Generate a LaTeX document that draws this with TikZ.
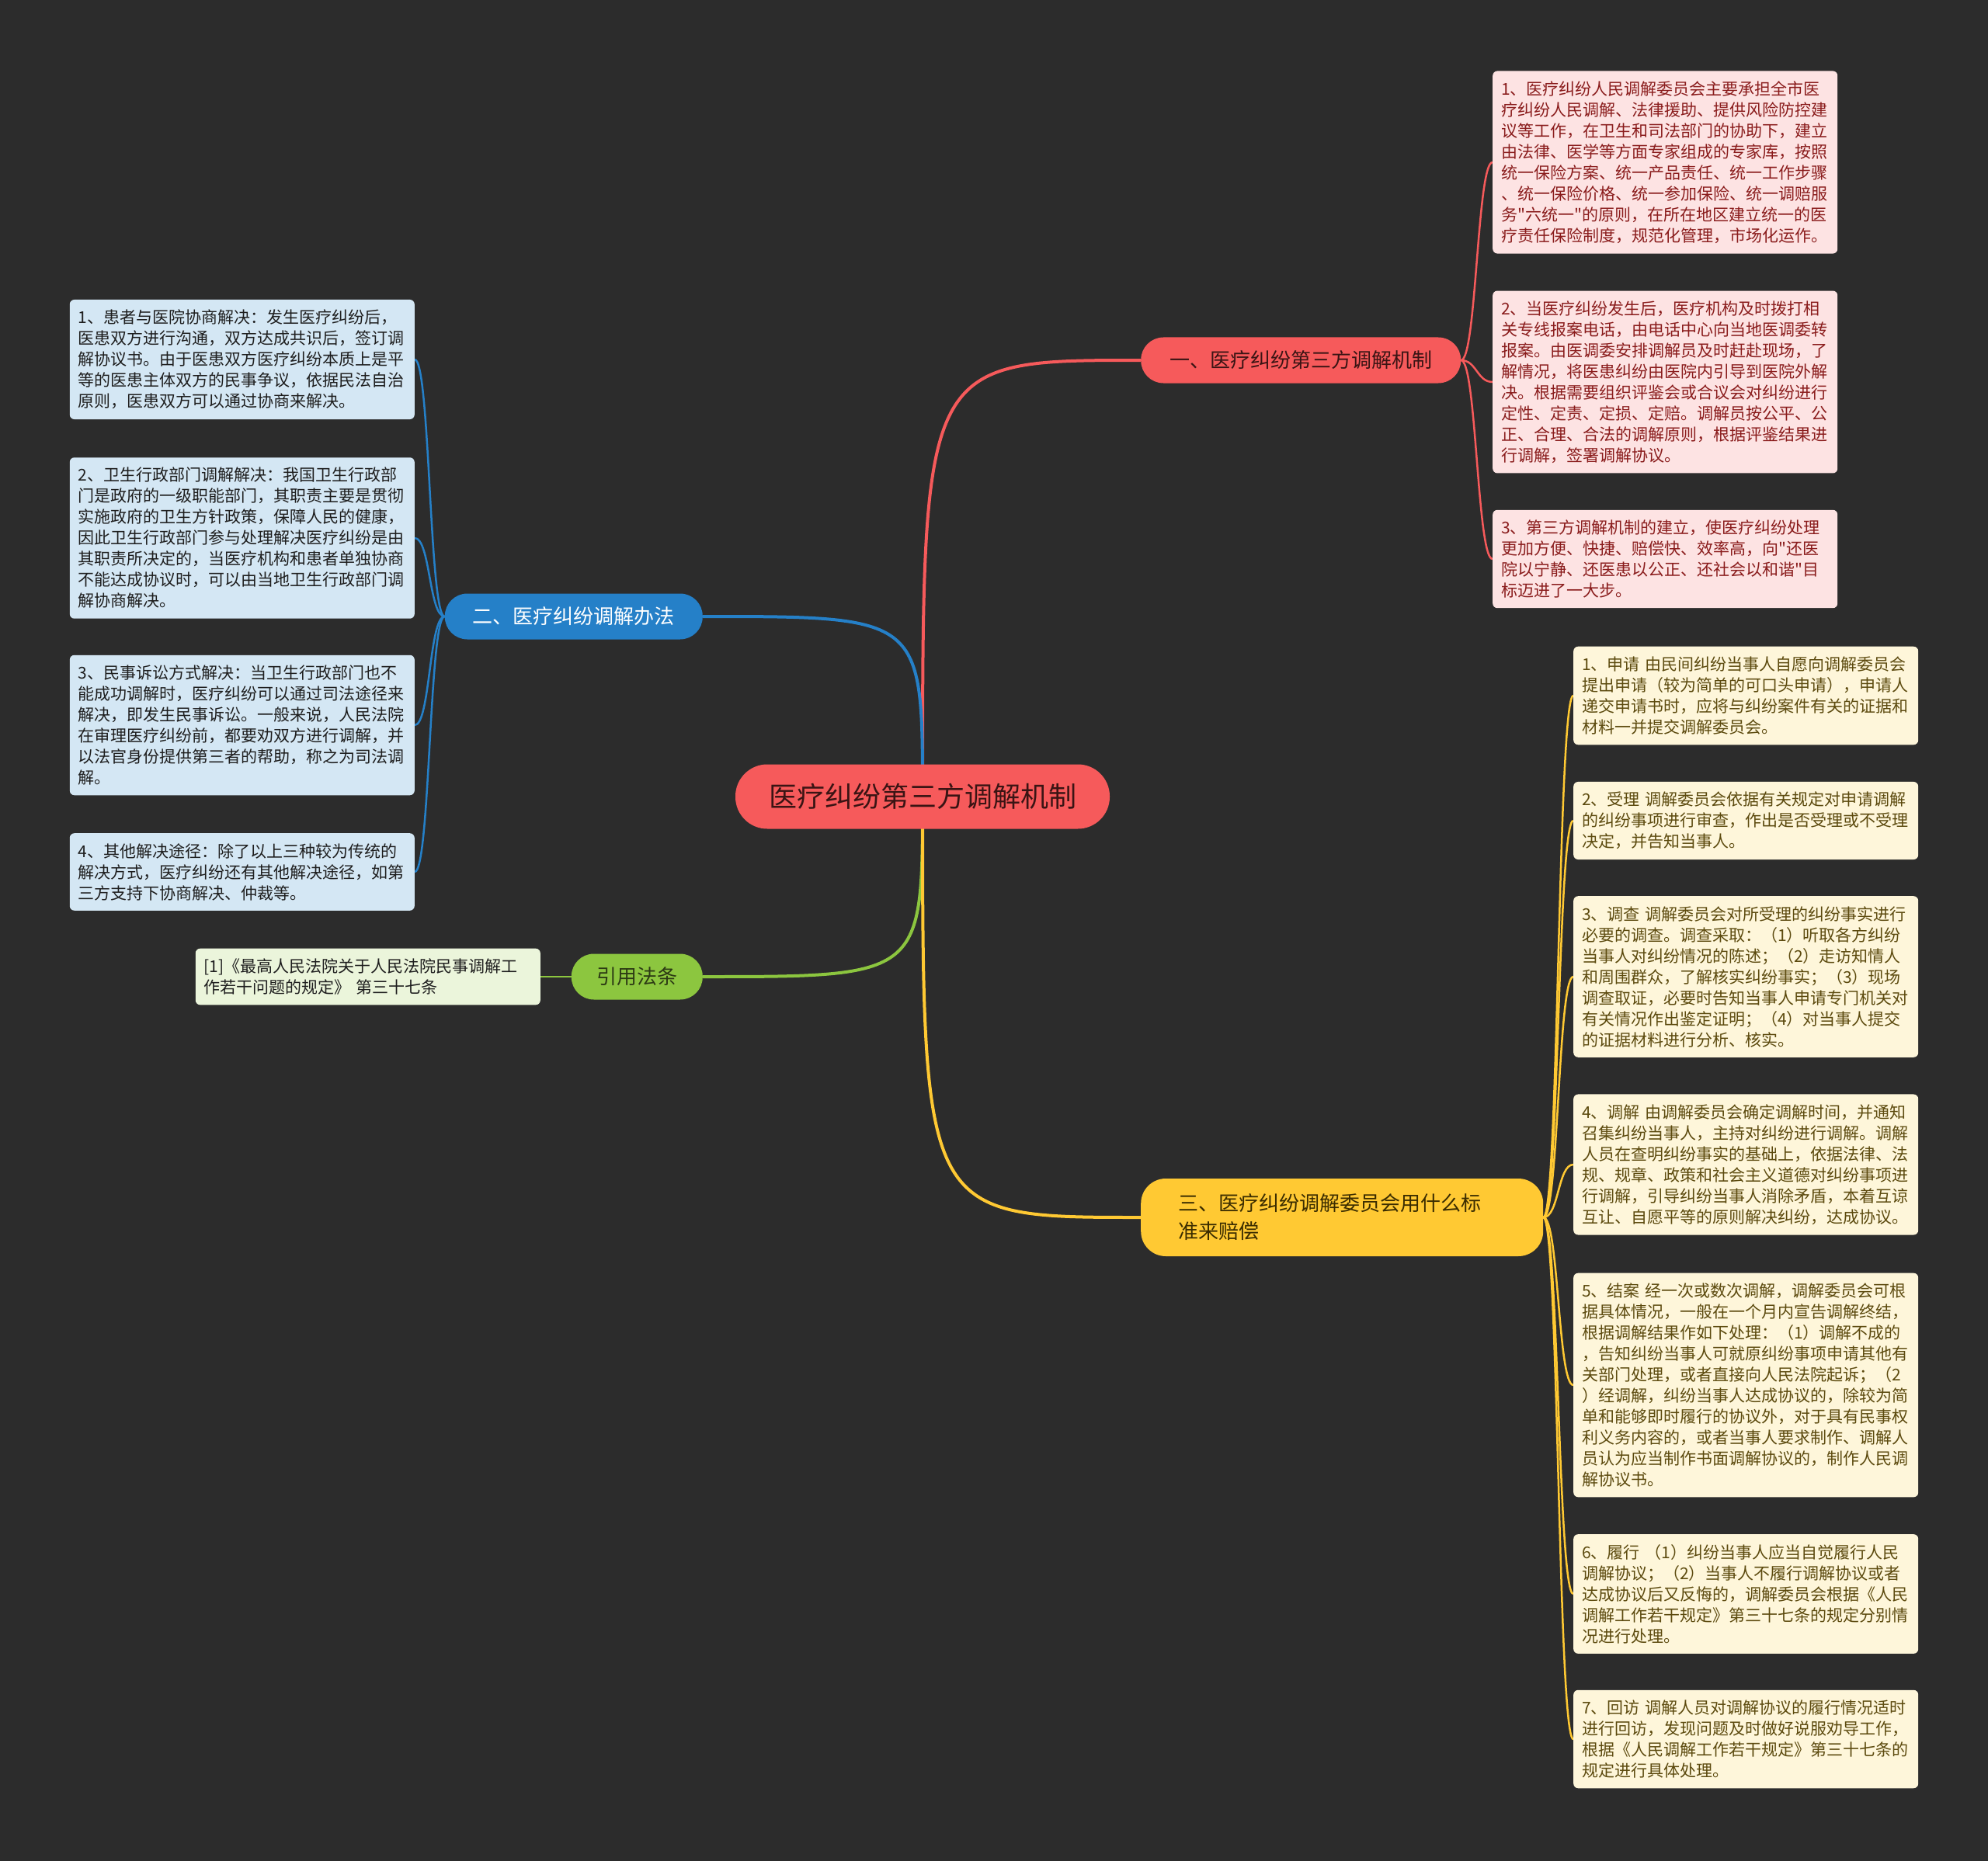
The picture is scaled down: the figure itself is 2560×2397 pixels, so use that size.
\documentclass[tikz,border=0pt]{standalone}
\usepackage{fontspec}
\newfontfamily\cjk{Noto Sans CJK SC}
\definecolor{bgcol}{HTML}{2C2C2C}
\definecolor{redmain}{HTML}{F65A5B}
\definecolor{redleaf}{HTML}{FDE3E3}
\definecolor{redtext}{HTML}{8A1C1C}
\definecolor{roottext}{HTML}{3A1414}
\definecolor{bluemain}{HTML}{2580C8}
\definecolor{blueleaf}{HTML}{D4E7F4}
\definecolor{bluetext}{HTML}{1E1E1E}
\definecolor{greenmain}{HTML}{8CC63F}
\definecolor{greenleaf}{HTML}{EBF5DB}
\definecolor{greentext}{HTML}{2C3A14}
\definecolor{yelmain}{HTML}{FFC933}
\definecolor{yelleaf}{HTML}{FEF6DA}
\definecolor{yeltext}{HTML}{5C4A0E}
\definecolor{yeltopic}{HTML}{3A2C00}
\pgfdeclarelayer{bg}
\pgfsetlayers{bg,main}
\begin{document}
\begin{tikzpicture}[x=1pt,y=-1pt,
  leaf/.style={rectangle,rounded corners=6pt,text width=422pt,align=left,inner xsep=11pt,inner ysep=13pt,font=\cjk\fontsize{21}{27}\selectfont},
  rleaf/.style={leaf,fill=redleaf,text=redtext,anchor=west},
  bleaf/.style={leaf,fill=blueleaf,text=bluetext,anchor=east},
  yleaf/.style={leaf,fill=yelleaf,text=yeltext,anchor=west},
  topic/.style={rectangle,rounded corners=29pt,minimum height=59pt,font=\cjk\fontsize{26}{36}\selectfont},
  mainline/.style={line width=4pt},
  twig/.style={line width=2.5pt}]
\node (root) at (1188,1026)[rectangle,rounded corners=41pt,minimum width=482pt,minimum height=83pt,fill=redmain,text=roottext,font=\cjk\fontsize{36}{40}\selectfont]{医疗纠纷第三方调解机制};

\node (t1) at (1469,464)[topic,anchor=west,minimum width=412pt,fill=redmain,text=roottext]{一、医疗纠纷第三方调解机制};
\node (t2) at (905,794)[topic,anchor=east,minimum width=332pt,fill=bluemain,text=white]{二、医疗纠纷调解办法};
\node (t3) at (905,1258)[topic,anchor=east,minimum width=169pt,fill=greenmain,text=greentext]{引用法条};
\node (t4) at (1469,1568)[topic,anchor=west,text width=422pt,align=left,inner xsep=48pt,minimum height=100pt,rounded corners=32pt,fill=yelmain,text=yeltopic]{三、医疗纠纷调解委员会用什么标\\准来赔偿};

\node (r1) at (1922,209)[rleaf]{1、医疗纠纷人民调解委员会主要承担全市医\\疗纠纷人民调解、法律援助、提供风险防控建\\议等工作，在卫生和司法部门的协助下，建立\\由法律、医学等方面专家组成的专家库，按照\\统一保险方案、统一产品责任、统一工作步骤\\、统一保险价格、统一参加保险、统一调赔服\\务"六统一"的原则，在所在地区建立统一的医\\疗责任保险制度，规范化管理，市场化运作。};
\node (r2) at (1922,492)[rleaf]{2、当医疗纠纷发生后，医疗机构及时拨打相\\关专线报案电话，由电话中心向当地医调委转\\报案。由医调委安排调解员及时赶赴现场，了\\解情况，将医患纠纷由医院内引导到医院外解\\决。根据需要组织评鉴会或合议会对纠纷进行\\定性、定责、定损、定赔。调解员按公平、公\\正、合理、合法的调解原则，根据评鉴结果进\\行调解，签署调解协议。};
\node (r3) at (1922,720)[rleaf]{3、第三方调解机制的建立，使医疗纠纷处理\\更加方便、快捷、赔偿快、效率高，向"还医\\院以宁静、还医患以公正、还社会以和谐"目\\标迈进了一大步。};

\node (b1) at (534,463)[bleaf]{1、患者与医院协商解决：发生医疗纠纷后，\\医患双方进行沟通，双方达成共识后，签订调\\解协议书。由于医患双方医疗纠纷本质上是平\\等的医患主体双方的民事争议，依据民法自治\\原则，医患双方可以通过协商来解决。};
\node (b2) at (534,693)[bleaf]{2、卫生行政部门调解解决：我国卫生行政部\\门是政府的一级职能部门，其职责主要是贯彻\\实施政府的卫生方针政策，保障人民的健康，\\因此卫生行政部门参与处理解决医疗纠纷是由\\其职责所决定的，当医疗机构和患者单独协商\\不能达成协议时，可以由当地卫生行政部门调\\解协商解决。};
\node (b3) at (534,934)[bleaf]{3、民事诉讼方式解决：当卫生行政部门也不\\能成功调解时，医疗纠纷可以通过司法途径来\\解决，即发生民事诉讼。一般来说，人民法院\\在审理医疗纠纷前，都要劝双方进行调解，并\\以法官身份提供第三者的帮助，称之为司法调\\解。};
\node (b4) at (534,1123)[bleaf]{4、其他解决途径：除了以上三种较为传统的\\解决方式，医疗纠纷还有其他解决途径，如第\\三方支持下协商解决、仲裁等。};

\node (c1) at (696,1258)[leaf,anchor=east,fill=greenleaf,text=bluetext]{[1]《最高人民法院关于人民法院民事调解工\\作若干问题的规定》 第三十七条};

\node (y1) at (2026,896)[yleaf]{1、申请 由民间纠纷当事人自愿向调解委员会\\提出申请（较为简单的可口头申请），申请人\\递交申请书时，应将与纠纷案件有关的证据和\\材料一并提交调解委员会。};
\node (y2) at (2026,1057)[yleaf]{2、受理 调解委员会依据有关规定对申请调解\\的纠纷事项进行审查，作出是否受理或不受理\\决定，并告知当事人。};
\node (y3) at (2026,1258)[yleaf]{3、调查 调解委员会对所受理的纠纷事实进行\\必要的调查。调查采取：（1）听取各方纠纷\\当事人对纠纷情况的陈述；（2）走访知情人\\和周围群众，了解核实纠纷事实；（3）现场\\调查取证，必要时告知当事人申请专门机关对\\有关情况作出鉴定证明；（4）对当事人提交\\的证据材料进行分析、核实。};
\node (y4) at (2026,1500)[yleaf]{4、调解 由调解委员会确定调解时间，并通知\\召集纠纷当事人，主持对纠纷进行调解。调解\\人员在查明纠纷事实的基础上，依据法律、法\\规、规章、政策和社会主义道德对纠纷事项进\\行调解，引导纠纷当事人消除矛盾，本着互谅\\互让、自愿平等的原则解决纠纷，达成协议。};
\node (y5) at (2026,1784)[yleaf]{5、结案 经一次或数次调解，调解委员会可根\\据具体情况，一般在一个月内宣告调解终结，\\根据调解结果作如下处理：（1）调解不成的\\，告知纠纷当事人可就原纠纷事项申请其他有\\关部门处理，或者直接向人民法院起诉；（2\\）经调解，纠纷当事人达成协议的，除较为简\\单和能够即时履行的协议外，对于具有民事权\\利义务内容的，或者当事人要求制作、调解人\\员认为应当制作书面调解协议的，制作人民调\\解协议书。};
\node (y6) at (2026,2053)[yleaf]{6、履行 （1）纠纷当事人应当自觉履行人民\\调解协议；（2）当事人不履行调解协议或者\\达成协议后又反悔的，调解委员会根据《人民\\调解工作若干规定》第三十七条的规定分别情\\况进行处理。};
\node (y7) at (2026,2240)[yleaf]{7、回访 调解人员对调解协议的履行情况适时\\进行回访，发现问题及时做好说服劝导工作，\\根据《人民调解工作若干规定》第三十七条的\\规定进行具体处理。};

\begin{pgfonlayer}{bg}
\fill[bgcol] (0,0) rectangle (2560,2397);
\draw[mainline,redmain] (root.center) .. controls (root.center |- t1.west) .. (t1.west);
\draw[mainline,bluemain] (root.center) .. controls (root.center |- t2.east) .. (t2.east);
\draw[mainline,greenmain] (root.center) .. controls (root.center |- t3.east) .. (t3.east);
\draw[mainline,yelmain] (root.center) .. controls (root.center |- t4.west) .. (t4.west);
\foreach \n in {r1,r2,r3} \draw[twig,redmain] (t1.east) .. controls +(20,0) and +(-20,0) .. (\n.west);
\foreach \n in {b1,b2,b3,b4} \draw[twig,bluemain] (t2.west) .. controls +(-20,0) and +(20,0) .. (\n.east);
\draw[twig,greenmain] (t3.west) -- (c1.east);
\foreach \n in {y1,y2,y3,y4,y5,y6,y7} \draw[twig,yelmain] (t4.east) .. controls +(20,0) and +(-20,0) .. (\n.west);
\end{pgfonlayer}
\end{tikzpicture}
\end{document}
